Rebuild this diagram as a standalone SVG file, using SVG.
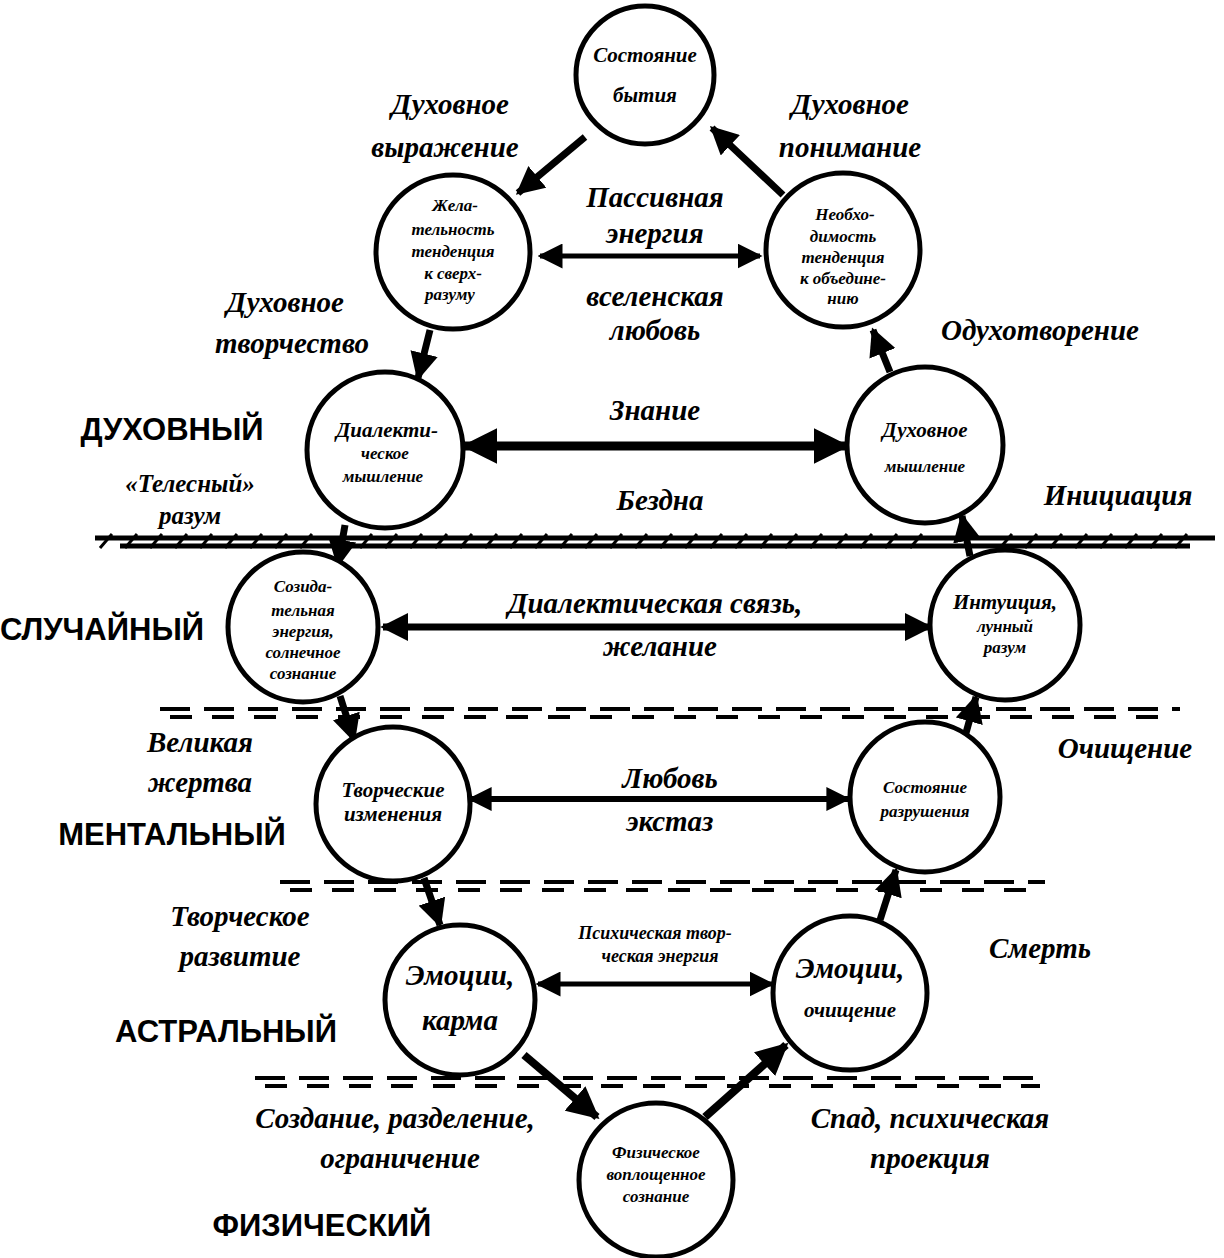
<svg xmlns="http://www.w3.org/2000/svg" width="1224" height="1258" viewBox="0 0 1224 1258">
<style>
.n{fill:#fff;stroke:#000;stroke-width:5}
.t{font-family:"Liberation Serif",serif;font-style:italic;font-weight:bold;fill:#000;text-anchor:middle}
.s{font-size:17px}
.m{font-size:21px}
.l{font-size:29px}
.c{font-family:"Liberation Sans",sans-serif;font-weight:bold;font-size:31px;fill:#000;text-anchor:middle}
.a{stroke:#000;fill:none}
.d{stroke:#000;stroke-width:4}
</style>
<defs>
<marker id="ah" viewBox="0 0 10 10" refX="9" refY="5" markerWidth="4" markerHeight="4" orient="auto-start-reverse" markerUnits="strokeWidth">
<path d="M0,0 L10,5 L0,10 Z" fill="#000"/>
</marker>
<marker id="ah2" viewBox="0 0 10 10" refX="9" refY="5" markerWidth="5" markerHeight="5" orient="auto-start-reverse" markerUnits="strokeWidth">
<path d="M0,0 L10,5 L0,10 Z" fill="#000"/>
</marker>
</defs>

<g id="levels">
<g id="hatch">
<path d="M95,538 L1215,538 M120,546 L1190,546" stroke="#000" stroke-width="5"/>
<path d="M100,548 l12,-14 M125,548 l12,-14 M150,548 l12,-14 M175,548 l12,-14 M200,548 l12,-14 M225,548 l12,-14 M250,548 l12,-14 M275,548 l12,-14 M300,548 l12,-14 M360,548 l12,-14 M385,548 l12,-14 M410,548 l12,-14 M435,548 l12,-14 M460,548 l12,-14 M485,548 l12,-14 M510,548 l12,-14 M535,548 l12,-14 M560,548 l12,-14 M585,548 l12,-14 M610,548 l12,-14 M635,548 l12,-14 M660,548 l12,-14 M685,548 l12,-14 M710,548 l12,-14 M735,548 l12,-14 M760,548 l12,-14 M785,548 l12,-14 M810,548 l12,-14 M835,548 l12,-14 M860,548 l12,-14 M885,548 l12,-14 M910,548 l12,-14 M1000,548 l12,-14 M1025,548 l12,-14 M1050,548 l12,-14 M1075,548 l12,-14 M1100,548 l12,-14 M1125,548 l12,-14 M1150,548 l12,-14 M1175,548 l12,-14" stroke="#000" stroke-width="3"/>
</g>
<path class="d" d="M160,709 L1180,709" stroke-dasharray="30 14"/>
<path class="d" d="M170,717 L1170,717" stroke-dasharray="22 20"/>
<path class="d" d="M280,882 L1045,882" stroke-dasharray="30 14"/>
<path class="d" d="M290,890 L1040,890" stroke-dasharray="22 20"/>
<path class="d" d="M255,1078 L1045,1078" stroke-dasharray="30 14"/>
<path class="d" d="M265,1086 L1040,1086" stroke-dasharray="22 20"/>
</g>

<g id="connectors">
<path class="a" stroke-width="7" d="M585,137 L518,193" marker-end="url(#ah)"/>
<path class="a" stroke-width="7" d="M783,195 L712,128" marker-end="url(#ah)"/>
<path class="a" stroke-width="5" d="M540,256 L760,256" marker-start="url(#ah2)" marker-end="url(#ah2)"/>
<path class="a" stroke-width="7" d="M430,330 L418,378" marker-end="url(#ah)"/>
<path class="a" stroke-width="7" d="M890,372 L873,330" marker-end="url(#ah)"/>
<path class="a" stroke-width="9" d="M465,446 L846,446" marker-start="url(#ah)" marker-end="url(#ah)"/>
<path class="a" stroke-width="7" d="M345,525 L338,565" marker-end="url(#ah)"/>
<path class="a" stroke-width="7" d="M970,556 L962,516" marker-end="url(#ah)"/>
<path class="a" stroke-width="7" d="M383,627 L930,627" marker-start="url(#ah)" marker-end="url(#ah)"/>
<path class="a" stroke-width="7" d="M340,696 L354,740" marker-end="url(#ah)"/>
<path class="a" stroke-width="7" d="M964,740 L976,697" marker-end="url(#ah)"/>
<path class="a" stroke-width="6" d="M470,799 L848,799" marker-start="url(#ah)" marker-end="url(#ah)"/>
<path class="a" stroke-width="7" d="M424,878 L440,925" marker-end="url(#ah)"/>
<path class="a" stroke-width="7" d="M880,920 L896,870" marker-end="url(#ah)"/>
<path class="a" stroke-width="5" d="M538,984 L772,984" marker-start="url(#ah2)" marker-end="url(#ah2)"/>
<path class="a" stroke-width="8" d="M524,1055 L597,1117" marker-end="url(#ah)"/>
<path class="a" stroke-width="8" d="M705,1117 L786,1045" marker-end="url(#ah)"/>
</g>

<g id="n-being"><circle class="n" cx="645" cy="75" r="69"/><text class="t m" x="645" y="62">Состояние</text><text class="t m" x="645" y="102">бытия</text></g>
<g id="n-desire"><circle class="n" cx="453" cy="252" r="77"/>
<text class="t s" x="455" y="211">Жела-</text><text class="t s" x="453" y="235">тельность</text><text class="t s" x="453" y="257">тенденция</text><text class="t s" x="453" y="279">к сверх-</text><text class="t s" x="450" y="300">разуму</text></g>
<g id="n-necessity"><circle class="n" cx="843" cy="250" r="77"/>
<text class="t s" x="845" y="220">Необхо-</text><text class="t s" x="843" y="242">димость</text><text class="t s" x="843" y="263">тенденция</text><text class="t s" x="843" y="284">к объедине-</text><text class="t s" x="843" y="304">нию</text></g>
<g id="n-dialthink"><circle class="n" cx="385" cy="450" r="78"/>
<text class="t m" x="387" y="437">Диалекти-</text><text class="t s" x="385" y="459">ческое</text><text class="t s" x="383" y="482">мышление</text></g>
<g id="n-spirthink"><circle class="n" cx="925" cy="445" r="78"/>
<text class="t m" x="925" y="437">Духовное</text><text class="t s" x="925" y="472">мышление</text></g>
<g id="n-creative-energy"><circle class="n" cx="303" cy="627" r="75"/>
<text class="t s" x="303" y="592">Созида-</text><text class="t s" x="303" y="616">тельная</text><text class="t s" x="303" y="637">энергия,</text><text class="t s" x="303" y="658">солнечное</text><text class="t s" x="303" y="679">сознание</text></g>
<g id="n-intuition"><circle class="n" cx="1005" cy="625" r="75"/>
<text class="t m" x="1005" y="609">Интуиция,</text><text class="t s" x="1005" y="632">лунный</text><text class="t s" x="1005" y="653">разум</text></g>
<g id="n-changes"><circle class="n" cx="393" cy="804" r="77"/>
<text class="t m" x="393" y="797">Творческие</text><text class="t m" x="393" y="821">изменения</text></g>
<g id="n-destruction"><circle class="n" cx="925" cy="797" r="75"/>
<text class="t s" x="925" y="793">Состояние</text><text class="t s" x="925" y="817">разрушения</text></g>
<g id="n-karma"><circle class="n" cx="460" cy="1000" r="75"/>
<text class="t l" x="460" y="985">Эмоции,</text><text class="t l" x="460" y="1030">карма</text></g>
<g id="n-purify"><circle class="n" cx="850" cy="993" r="77"/>
<text class="t l" x="850" y="978">Эмоции,</text><text class="t m" x="850" y="1017">очищение</text></g>
<g id="n-physical"><circle class="n" cx="656" cy="1180" r="77"/>
<text class="t s" x="656" y="1158">Физическое</text><text class="t s" x="656" y="1180">воплощенное</text><text class="t s" x="656" y="1202">сознание</text></g>

<g id="labels">
<text class="t l" x="450" y="114">Духовное</text><text class="t l" x="445" y="157">выражение</text>
<text class="t l" x="850" y="114">Духовное</text><text class="t l" x="850" y="157">понимание</text>
<text class="t l" x="655" y="207">Пассивная</text><text class="t l" x="655" y="243">энергия</text>
<text class="t l" x="655" y="306">вселенская</text><text class="t l" x="655" y="340">любовь</text>
<text class="t l" x="285" y="312">Духовное</text><text class="t l" x="292" y="353">творчество</text>
<text class="t l" x="1040" y="340">Одухотворение</text>
<text class="c" x="172" y="440">ДУХОВНЫЙ</text>
<text class="t" style="font-size:25px" x="190" y="492">«Телесный»</text><text class="t" style="font-size:25px" x="190" y="524">разум</text>
<text class="t l" x="655" y="420">Знание</text>
<text class="t l" x="660" y="510">Бездна</text>
<text class="t l" x="1118" y="505">Инициация</text>
<text class="c" x="102" y="640">СЛУЧАЙНЫЙ</text>
<text class="t l" x="655" y="613">Диалектическая связь,</text>
<text class="t l" x="660" y="656">желание</text>
<text class="t l" x="200" y="752">Великая</text><text class="t l" x="200" y="792">жертва</text>
<text class="t l" x="670" y="788">Любовь</text><text class="t l" x="670" y="831">экстаз</text>
<text class="t l" x="1125" y="758">Очищение</text>
<text class="c" x="172" y="845">МЕНТАЛЬНЫЙ</text>
<text class="t l" x="240" y="926">Творческое</text><text class="t l" x="240" y="966">развитие</text>
<text class="t l" x="1040" y="958">Смерть</text>
<text class="t" style="font-size:18px" x="655" y="939">Психическая твор-</text><text class="t" style="font-size:18px" x="660" y="962">ческая энергия</text>
<text class="c" x="226" y="1042">АСТРАЛЬНЫЙ</text>
<text class="t l" x="395" y="1128">Создание, разделение,</text><text class="t l" x="400" y="1168">ограничение</text>
<text class="t l" x="930" y="1128">Спад, психическая</text><text class="t l" x="930" y="1168">проекция</text>
<text class="c" x="322" y="1236">ФИЗИЧЕСКИЙ</text>
</g>
</svg>
